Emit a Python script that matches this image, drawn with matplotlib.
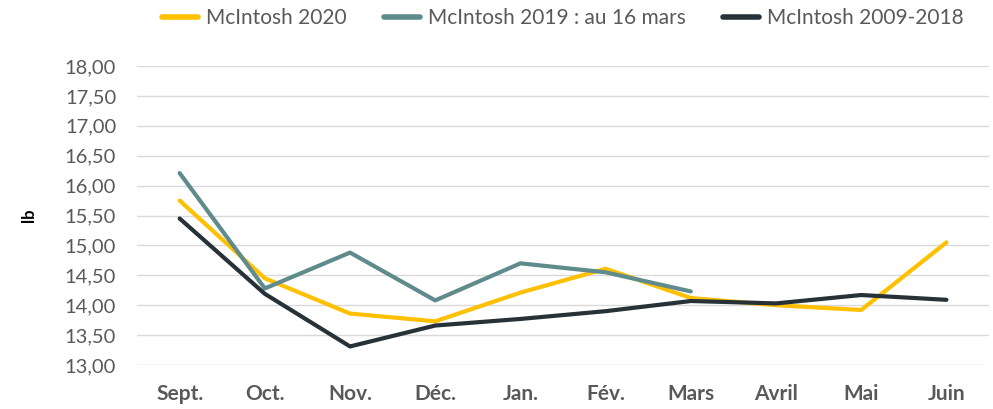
import numpy as np
import matplotlib
matplotlib.use("Agg")
from matplotlib import pyplot as plt
from matplotlib.ticker import FuncFormatter

# months on x axis
months = ["Sept.", "Oct.", "Nov.", "Déc.", "Jan.", "Fév.", "Mars", "Avril", "Mai", "Juin"]
# values in lb
mcintosh_2020 = [15.75, 14.45, 13.86, 13.73, 14.21, 14.61, 14.12, 14.00, 13.92, 15.05]
mcintosh_2019 = [16.21, 14.28, 14.88, 14.08, 14.70, 14.55, 14.23]
mcintosh_2009_2018 = [15.45, 14.19, 13.31, 13.66, 13.77, 13.90, 14.07, 14.03, 14.17, 14.09]

plt.rcParams['font.family'] = ['Lato', 'DejaVu Sans']

fig = plt.figure(figsize=(9.93, 4.09), dpi=100)
ax = fig.add_axes([0.138, 0.1076, 0.858, 0.731])

x = np.arange(len(months))
ax.plot(x, mcintosh_2020, color="#FFC000", lw=3, label="McIntosh 2020", solid_capstyle="round")
ax.plot(x[:len(mcintosh_2019)], mcintosh_2019, color="#5F8B8C", lw=3,
        label="McIntosh 2019 : au 16 mars", solid_capstyle="round")
ax.plot(x, mcintosh_2009_2018, color="#263238", lw=3, label="McIntosh 2009-2018",
        solid_capstyle="round")

ax.set_xlim(-0.5, len(months) - 0.5)
ax.set_ylim(13.0, 18.0)
ax.set_yticks(np.arange(13.0, 18.01, 0.5))
ax.yaxis.set_major_formatter(FuncFormatter(lambda v, p: f"{v:.2f}".replace(".", ",")))
ax.set_xticks(x)
ax.set_xticklabels(months, fontweight="bold", fontsize=15)
ax.tick_params(axis="y", length=0, labelsize=14.5, colors="#595959", pad=15)
ax.tick_params(axis="x", length=0, colors="#595959", pad=14)
ax.grid(axis="y", color="#D9D9D9", lw=1)
ax.set_axisbelow(True)
for s in ax.spines.values():
    s.set_visible(False)

ax.set_ylabel("lb", fontweight="bold", fontsize=12, color="#000000", labelpad=20)

leg = ax.legend(loc="center", bbox_to_anchor=(0.5, 1.16), ncol=3, frameon=False,
                fontsize=15, labelcolor="#595959", handlelength=1.7, columnspacing=1.8,
                handletextpad=0.4)
for h in leg.get_lines():
    h.set_linewidth(4)
    h.set_solid_capstyle("round")

plt.savefig("out.png", dpi=100)
